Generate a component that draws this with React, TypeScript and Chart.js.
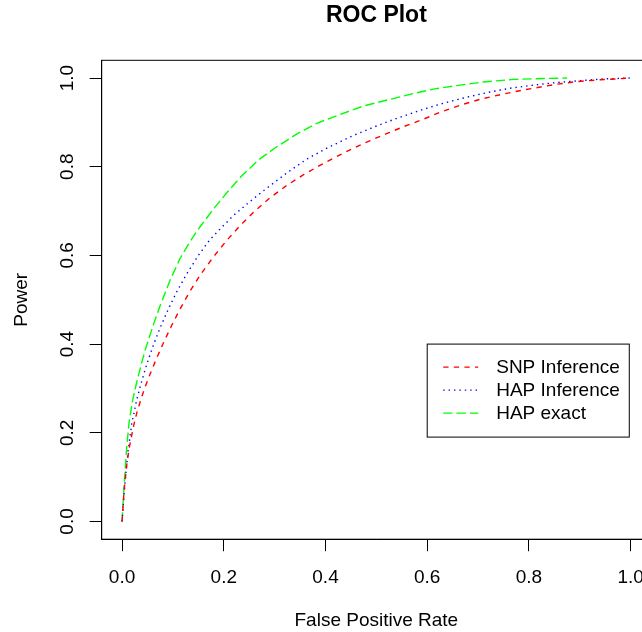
import React, { useEffect, useRef } from "react";
import { Chart, registerables } from "chart.js";

Chart.register(...registerables);

// ---- Data ----
const snpFpr = [0, 0.004, 0.009, 0.014, 0.022, 0.029, 0.039, 0.045, 0.055, 0.068, 0.081, 0.098, 0.114, 0.134, 0.155, 0.18, 0.206, 0.232, 0.26, 0.291, 0.324, 0.357, 0.389, 0.422, 0.455, 0.488, 0.521, 0.555, 0.59, 0.628, 0.668, 0.707, 0.75, 0.789, 0.829, 0.855, 0.894, 0.94, 0.993, 1.0];
const snpPower = [0, 0.07, 0.125, 0.165, 0.212, 0.245, 0.282, 0.302, 0.332, 0.368, 0.402, 0.443, 0.479, 0.52, 0.558, 0.597, 0.634, 0.667, 0.699, 0.73, 0.758, 0.782, 0.803, 0.823, 0.842, 0.859, 0.875, 0.891, 0.906, 0.924, 0.94, 0.953, 0.964, 0.973, 0.981, 0.986, 0.992, 0.996, 0.9995, 1.0];

const hapInfFpr = [0, 0.006, 0.012, 0.019, 0.029, 0.039, 0.049, 0.062, 0.075, 0.091, 0.108, 0.127, 0.15, 0.173, 0.2, 0.219, 0.252, 0.285, 0.324, 0.363, 0.403, 0.448, 0.494, 0.54, 0.586, 0.625, 0.671, 0.717, 0.763, 0.809, 0.855, 0.9, 0.947, 1.0];
const hapInfPower = [0, 0.09, 0.16, 0.22, 0.275, 0.318, 0.356, 0.399, 0.437, 0.479, 0.519, 0.558, 0.6, 0.636, 0.668, 0.69, 0.722, 0.752, 0.786, 0.817, 0.842, 0.867, 0.889, 0.909, 0.927, 0.941, 0.955, 0.967, 0.977, 0.984, 0.99, 0.994, 0.998, 1.0];

const hapExactFpr = [0, 0.003, 0.006, 0.009, 0.014, 0.021, 0.028, 0.039, 0.047, 0.062, 0.075, 0.094, 0.114, 0.134, 0.153, 0.18, 0.205, 0.235, 0.268, 0.304, 0.344, 0.383, 0.429, 0.475, 0.527, 0.573, 0.612, 0.658, 0.71, 0.77, 0.83, 0.875];
const hapExactPower = [0, 0.06, 0.115, 0.165, 0.225, 0.274, 0.31, 0.36, 0.392, 0.445, 0.487, 0.543, 0.593, 0.632, 0.664, 0.705, 0.74, 0.779, 0.815, 0.845, 0.874, 0.898, 0.918, 0.937, 0.952, 0.965, 0.975, 0.983, 0.991, 0.997, 0.999, 1.0];

const seriesNames = ["SNP Inference", "HAP Inference", "HAP exact"];
const seriesColors = ["#FF0000", "#0000FF", "#00FF00"];
const seriesDashes = [[5.3, 5.3], [1.4, 4], [9.3, 4]];

const xTicks = [0, 0.2, 0.4, 0.6, 0.8, 1.0];
const yTicks = [0, 0.2, 0.4, 0.6, 0.8, 1.0];

const chartTitle = "ROC Plot";
const xTitle = "False Positive Rate";
const yTitle = "Power";

// legend anchor (top-left corner, in data units)
const legendX = 0.6;
const legendY = 0.4;

const FONT = "'Liberation Sans', Arial, Helvetica, sans-serif";

function toPoints(xs: number[], ys: number[]) {
  return xs.map((x, i) => ({ x, y: ys[i] }));
}

const boxAndLegend = {
  id: "boxAndLegend",
  afterDraw(chart: any) {
    const { ctx, chartArea } = chart;
    ctx.save();
    ctx.strokeStyle = "#000";
    ctx.lineWidth = 1;
    ctx.setLineDash([]);
    ctx.strokeRect(chartArea.left, chartArea.top, chartArea.right - chartArea.left, chartArea.bottom - chartArea.top);

    // legend
    const xs = chart.scales.x;
    const ys = chart.scales.y;
    const left = xs.getPixelForValue(legendX);
    const top = ys.getPixelForValue(legendY);
    ctx.font = `19px ${FONT}`;
    let maxW = 0;
    seriesNames.forEach((n) => { maxW = Math.max(maxW, ctx.measureText(n).width); });
    const padL = 16, lineLen = 35, gap = 18, padR = 9.5;
    const rowH = 23;
    const w = padL + lineLen + gap + maxW + padR;
    const h = rowH * seriesNames.length + 24;
    ctx.fillStyle = "#fff";
    ctx.fillRect(left, top, w, h);
    ctx.strokeStyle = "#000";
    ctx.lineWidth = 1;
    ctx.strokeRect(left, top, w, h);
    ctx.textBaseline = "middle";
    ctx.textAlign = "left";
    seriesNames.forEach((n, i) => {
      const y = top + rowH * (i + 1);
      ctx.beginPath();
      ctx.strokeStyle = seriesColors[i];
      ctx.lineWidth = 1.4;
      ctx.setLineDash(seriesDashes[i]);
      ctx.moveTo(left + padL, y);
      ctx.lineTo(left + padL + lineLen, y);
      ctx.stroke();
      ctx.setLineDash([]);
      ctx.fillStyle = "#000";
      ctx.fillText(n, left + padL + lineLen + gap, y + 1);
    });
    ctx.restore();
  },
};

export default function App() {
  const ref = useRef<HTMLCanvasElement | null>(null);

  useEffect(() => {
    if (!ref.current) return;
    Chart.defaults.font.family = FONT;
    Chart.defaults.color = "#000";
    const datasets = [
      toPoints(snpFpr, snpPower),
      toPoints(hapInfFpr, hapInfPower),
      toPoints(hapExactFpr, hapExactPower),
    ].map((d, i) => ({
      label: seriesNames[i],
      data: d,
      borderColor: seriesColors[i],
      backgroundColor: seriesColors[i],
      borderWidth: 1.4,
      borderDash: seriesDashes[i],
      pointRadius: 0,
      tension: 0,
      fill: false,
    }));

    const chart = new Chart(ref.current, {
      type: "line",
      data: { datasets },
      plugins: [boxAndLegend],
      options: {
        animation: false,
        responsive: false,
        events: [],
        layout: { padding: { left: 0, right: 21, top: 0, bottom: 0 } },
        plugins: {
          legend: { display: false },
          tooltip: { enabled: false },
          title: {
            display: true,
            text: chartTitle,
            fullSize: false,
            color: "#000",
            font: { size: 23, weight: "bold", family: FONT },
            padding: { top: 1.7, bottom: 31 },
          },
        },
        scales: {
          x: {
            type: "linear",
            min: -0.04,
            max: 1.04,
            afterBuildTicks: (s: any) => { s.ticks = xTicks.map((v) => ({ value: v })); },
            afterFit: (s: any) => { s.height = 92.8; },
            grid: { drawOnChartArea: false, drawTicks: true, tickLength: 12, color: "#000", tickColor: "#000", lineWidth: 1 },
            border: { display: true, color: "#000", width: 1 },
            ticks: {
              autoSkip: false,
              maxRotation: 0,
              minRotation: 0,
              padding: 15.4,
              color: "#000",
              font: { size: 19, family: FONT },
              callback: (v: any) => Number(v).toFixed(1),
            },
            title: { display: true, text: xTitle, color: "#000", font: { size: 19, family: FONT }, padding: { top: 0, bottom: 0 } },
          },
          y: {
            type: "linear",
            min: -0.04,
            max: 1.04,
            afterBuildTicks: (s: any) => { s.ticks = yTicks.map((v) => ({ value: v })); },
            afterFit: (s: any) => { s.width = 101.7; },
            grid: { drawOnChartArea: false, drawTicks: true, tickLength: 12, color: "#000", tickColor: "#000", lineWidth: 1 },
            border: { display: true, color: "#000", width: 1 },
            ticks: {
              autoSkip: false,
              minRotation: 90,
              maxRotation: 90,
              crossAlign: "center",
              padding: 8.5,
              color: "#000",
              font: { size: 19, family: FONT },
              callback: (v: any) => Number(v).toFixed(1),
            },
            title: { display: true, text: yTitle, color: "#000", font: { size: 19, family: FONT }, padding: { top: 10.6, bottom: 0 } },
          },
        },
      } as any,
    });
    return () => chart.destroy();
  }, []);

  return (
    <div style={{ position: "fixed", left: 0, top: 0, width: 642, height: 632, overflow: "hidden", background: "#fff" }}>
      <canvas ref={ref} width={672} height={632} style={{ display: "block", width: 672, height: 632 }} />
    </div>
  );
}
